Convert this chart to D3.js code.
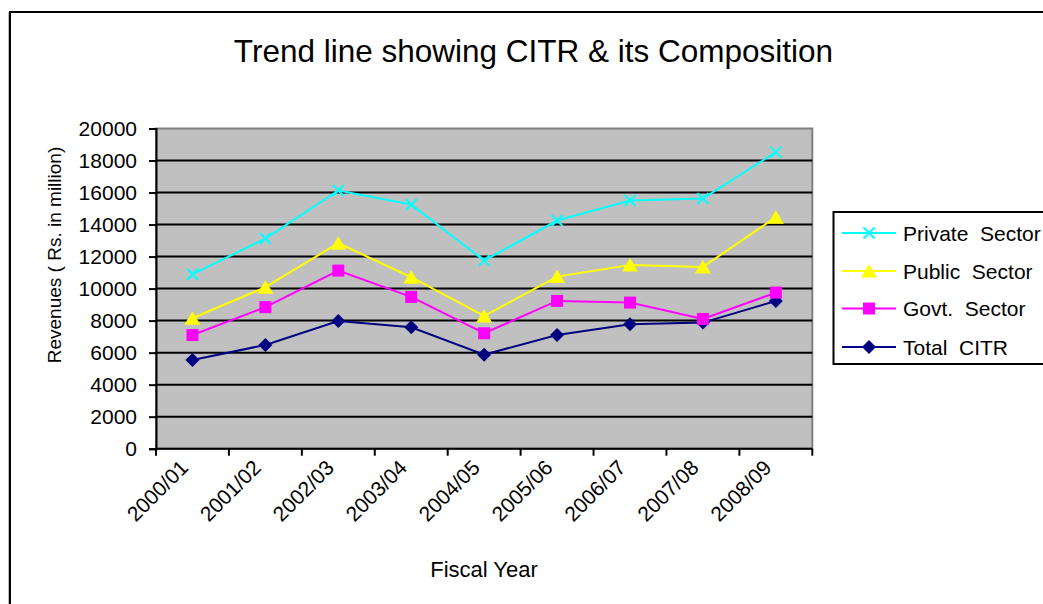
<!DOCTYPE html>
<html><head><meta charset="utf-8">
<script src="https://d3js.org/d3.v7.min.js"></script>
<style>body{margin:0;background:#fff}svg{display:block;font-family:"Liberation Sans",Arial,sans-serif}</style>
</head><body><svg id="c" width="1043" height="604"></svg>
<script>
const years = ["2000/01","2001/02","2002/03","2003/04","2004/05","2005/06","2006/07","2007/08","2008/09"];
const privateSector = [10900,13125,16125,15250,11750,14250,15500,15625,18525];
const publicSector = [8150,10090,12840,10710,8290,10750,11480,11355,14460];
const govtSector = [7100,8840,11125,9480,7210,9230,9125,8105,9750];
const totalCITR = [5540,6480,7980,7585,5875,7105,7770,7875,9230];
const yTicks = [0,2000,4000,6000,8000,10000,12000,14000,16000,18000,20000];
const seriesNames = ["Private  Sector","Public  Sector","Govt.  Sector","Total  CITR"];

const series = [
  {name: seriesNames[0], values: privateSector, color: "#00FFFF", marker: "x"},
  {name: seriesNames[1], values: publicSector, color: "#FFFF00", marker: "tri"},
  {name: seriesNames[2], values: govtSector, color: "#FF00FF", marker: "sq"},
  {name: seriesNames[3], values: totalCITR, color: "#000080", marker: "dia"}
];

const svg = d3.select("#c");
const L = 156, R = 812.3, T = 128.5, B = 448.7;
const x = d3.scaleBand().domain(years).range([L, R]).padding(0);
const y = d3.scaleLinear().domain([0, 20000]).range([B, T]);

// outer frame
svg.append("line").attr("x1",8.5).attr("x2",8.5).attr("y1",12).attr("y2",604).attr("stroke","#bbb").attr("stroke-width",1);
svg.append("rect").attr("x",10).attr("y",12).attr("width",1100).attr("height",700)
  .attr("fill","none").attr("stroke","#000").attr("stroke-width",2);

// title
svg.append("text").attr("x",533.5).attr("y",62).attr("text-anchor","middle")
  .attr("font-size",31.5).text("Trend line showing CITR & its Composition");

// plot area
svg.append("rect").attr("x",L).attr("y",T).attr("width",R-L).attr("height",B-T)
  .attr("fill","#C0C0C0").attr("stroke","#808080").attr("stroke-width",2);

// gridlines
svg.append("g").selectAll("line").data(yTicks.filter(d=>d>0 && d<20000)).join("line")
  .attr("x1",L).attr("x2",R).attr("y1",d=>y(d)).attr("y2",d=>y(d))
  .attr("stroke","#000").attr("stroke-width",2);

// y axis
const ya = svg.append("g").attr("transform",`translate(${L},0)`)
  .call(d3.axisLeft(y).tickValues(yTicks).tickSize(7).tickPadding(12).tickFormat(d3.format("d")));
ya.selectAll("path").attr("stroke","#000").attr("stroke-width",2);
ya.selectAll("line").attr("stroke","#000").attr("stroke-width",2);
ya.selectAll("text").attr("font-size",21).attr("font-family","Liberation Sans, Arial, sans-serif").attr("fill","#000");

// x axis
const boundaries = years.map(d=>x(d)).concat([R]);
svg.append("line").attr("x1",L).attr("x2",R).attr("y1",B).attr("y2",B).attr("stroke","#000").attr("stroke-width",2);
svg.append("g").selectAll("line").data(boundaries).join("line")
  .attr("x1",d=>d).attr("x2",d=>d).attr("y1",B).attr("y2",B+7).attr("stroke","#000").attr("stroke-width",2);
svg.append("g").selectAll("text").data(years).join("text")
  .attr("transform",d=>`translate(${x(d)+x.bandwidth()/2-3},${469}) rotate(-45)`)
  .attr("text-anchor","end").attr("font-size",21).text(d=>d);

// axis titles
svg.append("text").attr("x",484).attr("y",577).attr("text-anchor","middle").attr("font-size",22).text("Fiscal Year");
svg.append("text").attr("transform","translate(61,255) rotate(-90)").attr("text-anchor","middle")
  .attr("font-size",19).text("Revenues ( Rs. in million)");

// markers
function drawMarker(g, type, color){
  if(type==="x"){
    g.append("path").attr("d","M-5.5,-5.5L5.5,5.5M-5.5,5.5L5.5,-5.5").attr("stroke",color).attr("stroke-width",2).attr("fill","none");
  } else if(type==="tri"){
    g.append("path").attr("d","M0,-7L8,6.5L-8,6.5Z").attr("fill",color);
  } else if(type==="sq"){
    g.append("rect").attr("x",-6).attr("y",-6).attr("width",12).attr("height",12).attr("fill",color);
  } else {
    g.append("path").attr("d","M0,-7L7,0L0,7L-7,0Z").attr("fill",color);
  }
}

const line = d3.line().x((d,i)=>x(years[i])+x.bandwidth()/2).y(d=>y(d));
series.slice().reverse().forEach(s=>{
  svg.append("path").attr("d",line(s.values)).attr("fill","none").attr("stroke",s.color).attr("stroke-width",2);
  s.values.forEach((v,i)=>{
    const g = svg.append("g").attr("transform",`translate(${x(years[i])+x.bandwidth()/2},${y(v)})`);
    drawMarker(g, s.marker, s.color);
  });
});

// legend
svg.append("rect").attr("x",833.5).attr("y",212).attr("width",300).attr("height",152)
  .attr("fill","#fff").attr("stroke","#000").attr("stroke-width",2);
const ly = [233,271,308.5,347];
series.forEach((s,i)=>{
  svg.append("line").attr("x1",842).attr("x2",896).attr("y1",ly[i]).attr("y2",ly[i]).attr("stroke",s.color).attr("stroke-width",2);
  const g = svg.append("g").attr("transform",`translate(869,${ly[i]})`);
  drawMarker(g, s.marker, s.color);
  svg.append("text").attr("x",903).attr("y",ly[i]+7.5).attr("font-size",21).style("white-space","pre").text(s.name);
});
</script></body></html>
